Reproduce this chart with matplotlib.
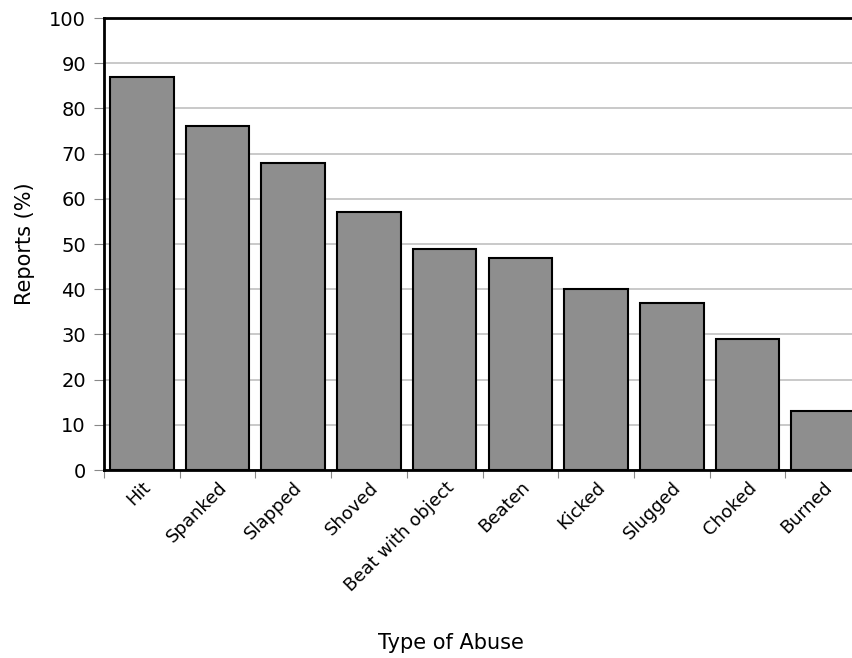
import numpy as np
import matplotlib
matplotlib.use("Agg")
import matplotlib.pyplot as plt

categories = ['Hit', 'Spanked', 'Slapped', 'Shoved', 'Beat with object',
              'Beaten', 'Kicked', 'Slugged', 'Choked', 'Burned']
reports = [87, 76, 68, 57, 49, 47, 40, 37, 29, 13]
y_ticks = [0, 10, 20, 30, 40, 50, 60, 70, 80, 90, 100]

plt.rcParams['font.family'] = ['DejaVu Sans']

fig = plt.figure(figsize=(8.53, 6.58), dpi=100)
# axes run a bit past the right edge, like the cropped original
ax = fig.add_axes([104 / 853, 1 - 470 / 658, 757 / 853, (470 - 18) / 658])

x = np.arange(len(categories))
ax.bar(x, reports, width=0.84, color='#8e8e8e', edgecolor='black',
       linewidth=1.5, zorder=3)

ax.set_xlim(-0.5, len(categories) - 0.5)
ax.set_ylim(0, 100)
ax.set_yticks(y_ticks)
ax.yaxis.grid(True, color='#c0c0c0', linewidth=1.2, zorder=0)

# ticks at category boundaries, labels at centres
ax.set_xticks(np.arange(len(categories) + 1) - 0.5)
ax.set_xticklabels([])
ax.set_xticks(x, minor=True)
ax.set_xticklabels(categories, minor=True, rotation=45, ha='right',
                   rotation_mode='anchor', fontsize=13)
ax.tick_params(axis='x', which='minor', length=0, pad=6)
ax.tick_params(axis='x', which='major', length=6, color='#888888')
ax.tick_params(axis='y', length=7, color='#888888', labelsize=14, pad=6)

for s in ax.spines.values():
    s.set_linewidth(2)
    s.set_color('black')

ax.set_ylabel('Reports (%)', fontsize=15, labelpad=10)
ax.set_xlabel('Type of Abuse', fontsize=15)
ax.xaxis.set_label_coords(0.458, -0.36)

fig.savefig('out.png', dpi=100)
